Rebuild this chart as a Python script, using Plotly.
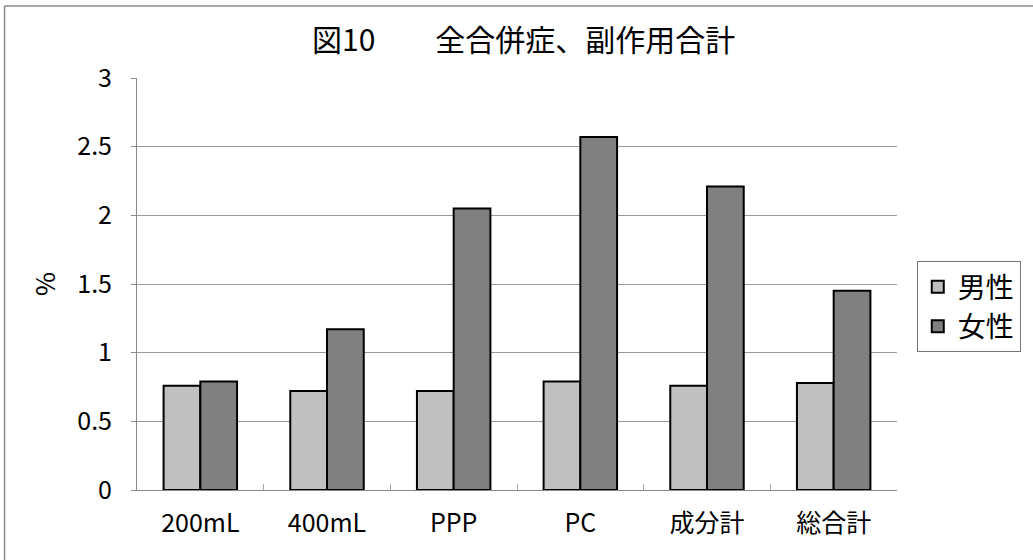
import plotly.graph_objects as go

categories = ["200mL", "400mL", "PPP", "PC", "成分計", "総合計"]
male = [0.76, 0.72, 0.72, 0.79, 0.76, 0.78]
female = [0.79, 1.17, 2.05, 2.57, 2.21, 1.45]
y_ticks = [0, 0.5, 1, 1.5, 2, 2.5, 3]
y_tick_labels = ["0", "0.5", "1", "1.5", "2", "2.5", "3"]

FONT = "Noto Sans CJK JP, Liberation Sans, sans-serif"

fig = go.Figure()
fig.add_trace(go.Bar(x=categories, y=male, name="男性",
                     marker=dict(color="#c0c0c0", line=dict(color="black", width=2))))
fig.add_trace(go.Bar(x=categories, y=female, name="女性",
                     marker=dict(color="#808080", line=dict(color="black", width=2))))

fig.update_layout(
    width=1033, height=560,
    margin=dict(l=137, r=133, t=78, b=70),
    paper_bgcolor="white", plot_bgcolor="white",
    barmode="group", bargap=0.42, bargroupgap=0,
    font=dict(family=FONT, color="black", size=24),
    title=dict(text="図10　　全合併症、副作用合計", x=0.507, xanchor="center",
               y=0.928, yanchor="middle", font=dict(size=30, family=FONT)),
    legend=dict(x=1.026, y=0.445, xanchor="left", yanchor="middle",
                bordercolor="#777", borderwidth=1, font=dict(size=28),
                itemwidth=30, tracegroupgap=0),
    showlegend=True,
)
fig.update_yaxes(range=[0, 3], tickvals=y_ticks, ticktext=y_tick_labels,
                 tickfont=dict(size=25),
                 showgrid=True, gridcolor="#999", gridwidth=1,
                 showline=True, linecolor="#888", linewidth=1,
                 ticks="outside", ticklen=5, tickcolor="#888",
                 ticklabelstandoff=14,
                 title=dict(text="%", font=dict(size=26), standoff=14),
                 zeroline=False)
fig.update_xaxes(showline=True, linecolor="#888", linewidth=1,
                 tickfont=dict(size=25),
                 ticks="inside", tickson="boundaries", ticklen=6, tickcolor="#aaa",
                 ticklabelstandoff=11,
                 showgrid=False)

# outer frame (left and top edges)
fig.add_shape(type="line", xref="paper", yref="paper",
              x0=-0.1743, x1=1.2, y0=1.175, y1=1.175, line=dict(color="#888", width=1.5))
fig.add_shape(type="line", xref="paper", yref="paper",
              x0=-0.1743, x1=-0.1743, y0=1.175, y1=-0.2, line=dict(color="#888", width=1.5))

fig.write_html("out.html", config={"displayModeBar": False},
               post_script="document.body.style.margin='0px';")
